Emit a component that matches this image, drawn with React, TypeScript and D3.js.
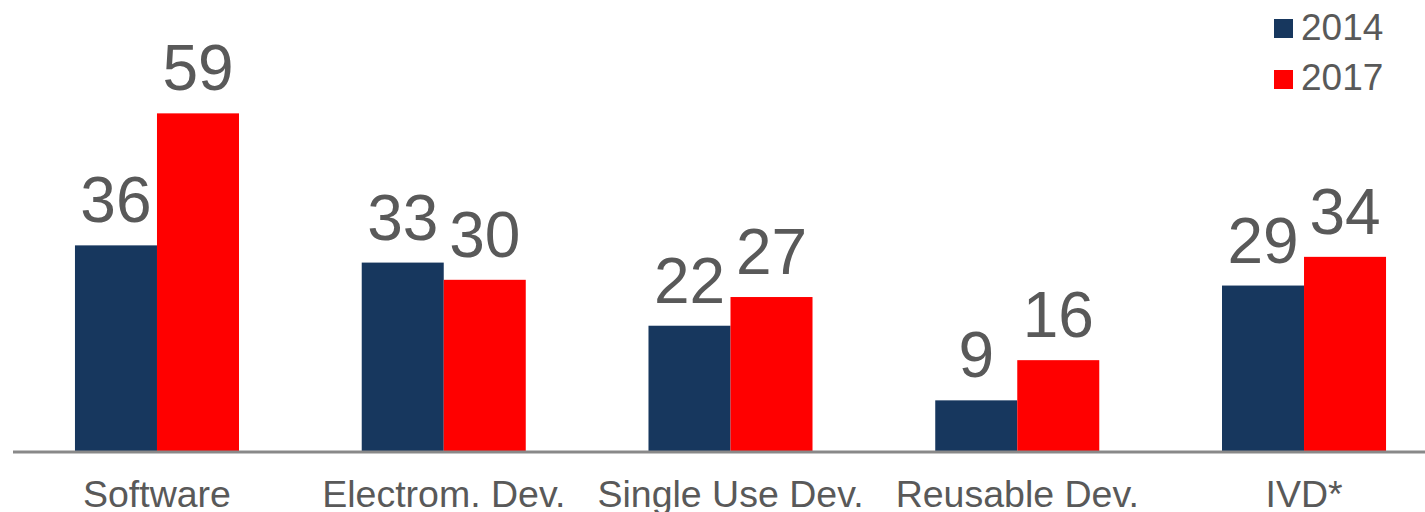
import React, { useEffect, useRef } from 'react';
import * as d3 from 'd3';

const categories = ['Software', 'Electrom. Dev.', 'Single Use Dev.', 'Reusable Dev.', 'IVD*'];
const seriesNames = ['2014', '2017'];
const values2014 = [36, 33, 22, 9, 29];
const values2017 = [59, 30, 27, 16, 34];
const colors = ['#17375E', '#FF0000'];

function App() {
  const ref = useRef<SVGSVGElement>(null);
  const width = 1425;
  const height = 512;

  useEffect(() => {
    const svg = d3.select(ref.current);
    svg.selectAll('*').remove();
    svg.attr('width', width).attr('height', height);

    const baseline = 452;
    const font = 'Liberation Sans, Arial, sans-serif';
    const textColor = '#595959';

    const x = d3.scaleBand<string>()
      .domain(categories)
      .range([13.6, 1447.4])
      .paddingInner(0.428)
      .paddingOuter(0.214);

    const xs = d3.scaleBand<string>()
      .domain(seriesNames)
      .range([0, x.bandwidth()]);

    const y = d3.scaleLinear().domain([0, 78.75]).range([baseline, 0]);

    const series = [values2014, values2017];

    const groups = svg.selectAll('g.group')
      .data(categories)
      .enter()
      .append('g')
      .attr('class', 'group')
      .attr('transform', (d) => `translate(${x(d)},0)`);

    seriesNames.forEach((name, si) => {
      groups.append('rect')
        .attr('x', xs(name)!)
        .attr('width', xs.bandwidth())
        .attr('y', (_, i) => y(series[si][i]))
        .attr('height', (_, i) => baseline - y(series[si][i]))
        .attr('fill', colors[si]);

      groups.append('text')
        .attr('x', xs(name)! + xs.bandwidth() / 2)
        .attr('y', (_, i) => y(series[si][i]) - 23)
        .attr('text-anchor', 'middle')
        .attr('font-family', font)
        .attr('font-size', 64)
        .attr('fill', textColor)
        .text((_, i) => series[si][i]);
    });

    // axis line
    svg.append('line')
      .attr('x1', 13)
      .attr('x2', width)
      .attr('y1', baseline)
      .attr('y2', baseline)
      .attr('stroke', '#898989')
      .attr('stroke-width', 3);

    // category labels
    groups.append('text')
      .attr('x', x.bandwidth() / 2)
      .attr('y', 507)
      .attr('text-anchor', 'middle')
      .attr('font-family', font)
      .attr('font-size', 37.5)
      .attr('fill', textColor)
      .text((d) => d);

    // legend
    const legend = svg.append('g');
    seriesNames.forEach((name, i) => {
      legend.append('rect')
        .attr('x', 1274)
        .attr('y', 19 + i * 51)
        .attr('width', 19)
        .attr('height', 19)
        .attr('fill', colors[i]);
      legend.append('text')
        .attr('x', 1301)
        .attr('y', 40 + i * 50)
        .attr('font-family', font)
        .attr('font-size', 37)
        .attr('fill', textColor)
        .text(name);
    });
  }, []);

  return (
    <svg ref={ref} style={{ position: 'absolute', left: 0, top: 0 }}></svg>
  );
}

export default App;
